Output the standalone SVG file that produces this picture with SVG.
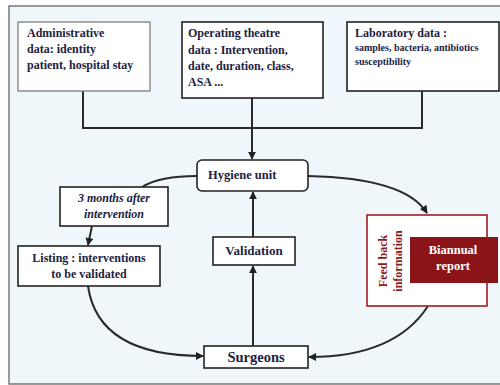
<svg xmlns="http://www.w3.org/2000/svg" width="500" height="385" viewBox="0 0 500 385">
<defs>
<marker id="ah" viewBox="0 0 10 10" refX="9" refY="5" markerWidth="4" markerHeight="4" orient="auto" markerUnits="strokeWidth">
<path d="M0,0 L10,5 L0,10 z" fill="#222"/>
</marker>
<style>
.box{fill:#fff;stroke:#222;stroke-width:1.6}
.t{font-family:"Liberation Serif",serif;font-weight:bold;fill:#1e2240}
.c{fill:none;stroke:#2a2a2a;stroke-width:2}
</style>
</defs>
<rect x="9" y="6" width="500" height="378" fill="#eff7fb" stroke="#808080" stroke-width="1.6"/>
<g id="connectors">
<path class="c" d="M83,91 V128 H422 V91"/>
<path class="c" d="M252,98 V159" marker-end="url(#ah)"/>
<path class="c" d="M197,176 Q160,176 142,187"/>
<path class="c" d="M92,226 L88,245" marker-end="url(#ah)"/>
<path class="c" d="M88,286 Q98,356 203,356" marker-end="url(#ah)"/>
<path class="c" d="M308,176 Q405,178 427,213" marker-end="url(#ah)"/>
<path class="c" d="M428,306 Q395,357 309,357" marker-end="url(#ah)"/>
<path class="c" d="M253,346 V266" marker-end="url(#ah)"/>
<path class="c" d="M253,237 V192" marker-end="url(#ah)"/>
</g>
<g id="admin">
<rect x="18" y="22" width="132" height="69" fill="#fff" stroke="#888" stroke-width="1.4"/>
<text class="t" font-size="12" x="27" y="37">Administrative</text>
<text class="t" font-size="12" x="27" y="53">data: identity</text>
<text class="t" font-size="12" x="27" y="69">patient, hospital stay</text>
</g>
<g id="operating">
<rect class="box" x="182" y="22" width="141" height="76"/>
<text class="t" font-size="12" x="188" y="37">Operating theatre</text>
<text class="t" font-size="12" x="188" y="54">data : Intervention,</text>
<text class="t" font-size="12" x="188" y="70">date, duration, class,</text>
<text class="t" font-size="12" x="188" y="86">ASA ...</text>
</g>
<g id="laboratory">
<rect class="box" x="347" y="22" width="152" height="69"/>
<text class="t" font-size="12" x="355" y="37">Laboratory data :</text>
<text class="t" font-size="10" x="355" y="51">samples, bacteria, antibiotics</text>
<text class="t" font-size="10" x="355" y="65">susceptibility</text>
</g>
<g id="hygiene">
<rect class="box" x="197" y="160" width="111" height="31" rx="5"/>
<text class="t" font-size="12.5" x="208" y="179">Hygiene unit</text>
</g>
<g id="months">
<rect class="box" x="60" y="187" width="108" height="39"/>
<text class="t" font-size="12" font-style="italic" x="114" y="202" text-anchor="middle">3 months after</text>
<text class="t" font-size="12" font-style="italic" x="114" y="218" text-anchor="middle">intervention</text>
</g>
<g id="listing">
<rect class="box" x="18" y="246" width="142" height="40"/>
<text class="t" font-size="12" x="89" y="262" text-anchor="middle">Listing : interventions</text>
<text class="t" font-size="12" x="89" y="278" text-anchor="middle">to be validated</text>
</g>
<g id="validation">
<rect class="box" x="213" y="237" width="82" height="28"/>
<text class="t" font-size="13" x="254" y="255" text-anchor="middle">Validation</text>
</g>
<g id="surgeons">
<rect class="box" x="204" y="346" width="104" height="22"/>
<text class="t" font-size="14.5" x="256" y="362" text-anchor="middle">Surgeons</text>
</g>
<g id="feedback">
<rect x="367" y="215" width="120" height="91" fill="#fff" stroke="#a01c22" stroke-width="1.6"/>
<text class="t" font-size="12" style="fill:#8b1a1a" transform="translate(387,261) rotate(-90)" text-anchor="middle">Feed back</text>
<text class="t" font-size="12" style="fill:#8b1a1a" transform="translate(402,261) rotate(-90)" text-anchor="middle">information</text>
</g>
<g id="biannual">
<rect x="410" y="237" width="88" height="46" fill="#8b1418"/>
<text class="t" font-size="12.5" style="fill:#fff" x="453" y="254" text-anchor="middle">Biannual</text>
<text class="t" font-size="12.5" style="fill:#fff" x="453" y="270" text-anchor="middle">report</text>
</g>
</svg>
